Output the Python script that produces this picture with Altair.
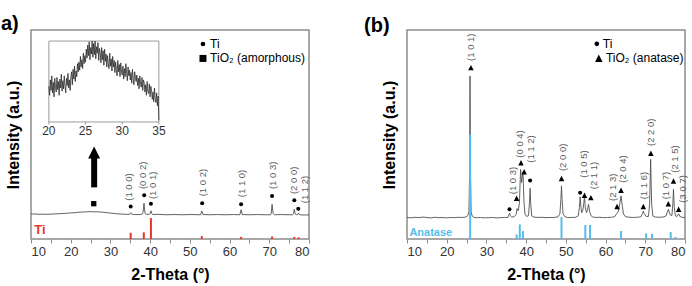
import altair as alt
import pandas as pd

FONT = "Liberation Sans"
CURVE = "#505050"
LABEL_GRAY = "#5e5e5e"
FRAME = "#8c8c8c"
TI_RED = "#e8362e"
ANATASE_BLUE = "#55bde9"
TRI_PATH = "M-1,1L0,-1L1,1Z"

# ---------------- panel (a): Ti with amorphous TiO2 ----------------
a_two_theta = [10, 11, 12, 13, 14, 15, 16, 17, 18, 19, 20, 21, 22, 23, 24, 25, 26, 27, 28, 29, 30,
               31, 32, 33, 34, 34.8, 35.1, 35.4, 36, 37, 37.9, 38.2, 38.45, 38.7, 39.0, 39.8,
               40.05, 40.2, 40.4, 40.7, 42, 44, 46, 48, 50, 52.7, 53.0, 53.3, 55, 57, 59, 61,
               62.6, 62.9, 63.2, 65, 67, 69, 70.3, 70.5, 70.7, 70.95, 71.3, 73, 75, 75.9, 76.1,
               76.3, 76.5, 76.9, 77.2, 77.4, 77.6, 78, 80]
a_intensity = [11.9, 12.0, 11.8, 11.9, 11.8, 11.9, 12.0, 12.1, 12.2, 12.3, 12.5, 12.6, 12.8, 12.9,
               13.0, 13.1, 13.0, 13.0, 12.8, 12.6, 12.4, 12.2, 12.0, 11.9, 11.8, 11.8, 12.6, 11.8,
               11.7, 11.7, 11.8, 12.6, 17.1, 12.3, 11.8, 11.8, 12.4, 13.5, 12.2, 11.7, 11.8, 11.6,
               11.7, 11.6, 11.7, 11.6, 13.4, 11.7, 11.6, 11.7, 11.6, 11.7, 11.6, 14.0, 11.7, 11.6,
               11.7, 11.6, 11.6, 12.4, 16.6, 12.2, 11.6, 11.7, 11.6, 11.6, 12.2, 14.2, 12.0, 11.6,
               11.8, 12.4, 11.7, 11.5, 11.5]

ti_ref_pos = [35.1, 38.4, 40.2, 53.0, 62.9, 70.7, 76.3, 77.4]
ti_ref_int = [3.0, 3.2, 10.0, 1.4, 1.0, 1.2, 1.0, 0.8]

a_peak_x = [35.1, 38.5, 40.2, 53.1, 62.9, 70.7, 76.3, 77.3]
a_peak_y = [15.5, 20.9, 16.9, 17.1, 16.6, 20.6, 18.5, 14.5]
a_hkl = ["(1 0 0)", "(0 0 2)", "(1 0 1)", "(1 0 2)", "(1 1 0)", "(1 0 3)", "(2 0 0)", "(1 1 2)"]
a_hkl_x = [34.8, 38.1, 40.6, 53.2, 63.1, 70.9, 76.3, 79.0]
a_hkl_y = [18.3, 23.9, 19.1, 20.4, 20.0, 23.9, 21.5, 17.1]

amorph_x = [25.8]
amorph_y = [16.9]

# inset: the broad amorphous hump, 20-35 deg in 0.1 deg steps
inset_start, inset_step = 20.0, 0.1
inset_counts = [44, 33, 52, 39, 57, 36, 49, 31, 54, 43,
                37, 55, 40, 50, 33, 53, 42, 59, 38, 51,
                41, 57, 44, 36, 54, 45, 60, 42, 52, 39,
                56, 62, 46, 65, 53, 69, 50, 63, 56, 72,
                62, 74, 64, 81, 68, 77, 66, 85, 72, 82,
                74, 90, 79, 95, 82, 99, 77, 92, 84, 100,
                80, 97, 83, 100, 78, 93, 85, 98, 76, 91,
                86, 73, 92, 77, 88, 70, 90, 75, 84, 68,
                82, 72, 66, 85, 69, 78, 63, 81, 68, 76,
                61, 74, 65, 57, 76, 62, 71, 56, 73, 63,
                58, 69, 53, 66, 56, 72, 60, 51, 68, 57,
                64, 52, 61, 48, 65, 53, 46, 62, 55, 50,
                58, 45, 54, 41, 57, 47, 43, 55, 39, 52,
                48, 37, 46, 33, 50, 38, 35, 47, 31, 44,
                40, 28, 37, 25, 42, 29, 24, 36, 20, 32,
                2]
inset_ticks = [20, 25, 30, 35]
# where the inset box sits inside panel (a), in that panel's data units
INSET_X0, INSET_X1 = 14.5, 42.2
INSET_Y0, INSET_Y1 = 56.0, 94.7

# ---------------- panel (b): Ti with anatase TiO2 ----------------
b_two_theta = [10, 11, 12, 13, 14, 15, 16, 17, 18, 19, 20, 21, 22, 23, 24, 24.8, 25.3, 25.6, 25.75,
               25.87, 26.0, 26.15, 26.4, 26.8, 27.5, 28.5, 29.5, 30.5, 31.5, 32.5, 33.5, 34.5,
               35.4, 35.7, 35.85, 36.0, 36.4, 37.0, 37.5, 37.7, 38.0, 38.3, 38.6, 38.85, 39.2,
               39.45, 39.7, 40.1, 40.6, 40.85, 41.0, 41.15, 41.4, 41.9, 43, 44, 45, 46, 47, 48.0,
               48.5, 48.75, 48.9, 49.05, 49.3, 49.8, 50.5, 51.5, 52.5, 53.1, 53.4, 53.6, 53.8,
               54.0, 54.3, 54.5, 54.7, 54.9, 55.2, 55.45, 55.7, 55.95, 56.3, 56.8, 57.5, 58.5,
               59.5, 60.5, 61.5, 62.3, 62.8, 63.2, 63.6, 63.9, 64.2, 64.5, 65.0, 66, 67, 68, 68.9,
               69.3, 69.5, 69.7, 70.2, 70.8, 71.1, 71.35, 71.6, 71.9, 72.5, 73.5, 74.5, 75.2,
               75.6, 75.8, 76.0, 76.3, 76.7, 76.95, 77.1, 77.3, 77.6, 78.0, 78.3, 78.45, 78.7,
               79.2, 80]
b_intensity = [10.3, 10.1, 10.4, 10.2, 10.5, 10.3, 10.1, 10.4, 10.2, 10.3, 10.1, 10.3, 10.2, 10.4,
               10.3, 10.5, 11.2, 13.0, 30.0, 78.0, 30.0, 13.0, 11.0, 10.4, 10.2, 10.3, 10.1, 10.2,
               10.3, 10.1, 10.2, 10.3, 10.3, 11.8, 12.4, 11.2, 10.5, 10.7, 11.8, 14.5, 13.5, 17.0,
               33.3, 27.0, 32.2, 18.0, 12.0, 10.8, 11.2, 18.0, 24.3, 17.0, 11.0, 10.5, 10.3, 10.4,
               10.2, 10.3, 10.3, 10.6, 12.0, 19.0, 25.4, 19.0, 12.0, 10.6, 10.3, 10.3, 10.4, 11.0,
               15.0, 20.2, 15.0, 12.6, 14.0, 17.0, 20.1, 15.0, 12.6, 14.0, 16.6, 13.5, 11.2, 10.5,
               10.3, 10.4, 10.2, 10.3, 10.4, 10.7, 12.2, 13.0, 17.0, 20.6, 16.0, 12.0, 10.7, 10.4,
               10.3, 10.4, 10.6, 12.2, 13.4, 12.2, 10.8, 10.8, 17.0, 38.1, 17.0, 11.0, 10.5, 10.4,
               10.5, 11.0, 13.2, 14.2, 13.0, 11.5, 11.2, 17.0, 23.8, 15.0, 11.0, 10.8, 11.8, 12.0,
               10.8, 10.4, 10.3]

anatase_ref_pos = [25.9, 37.6, 38.4, 39.2, 48.9, 54.9, 56.1, 63.9, 70.2, 71.7, 76.4, 77.6]
anatase_ref_int = [50.0, 2.2, 7.0, 3.8, 10.5, 6.7, 6.7, 3.8, 2.7, 2.5, 3.3, 1.0]

b_ti_x = [35.8, 41.0, 53.6]
b_ti_y = [14.2, 28.0, 22.1]
b_tri_x = [26.1, 37.6, 38.7, 39.5, 48.9, 54.7, 56.3, 62.9, 63.9, 69.5, 71.4, 75.8, 77.1, 78.4]
b_tri_y = [82.0, 19.5, 36.5, 32.2, 29.0, 20.9, 19.8, 15.6, 23.3, 15.6, 41.0, 16.9, 27.8, 14.2]
b_hkl = ["(1 0 1)", "(1 0 3)", "(0 0 4)", "(1 1 2)", "(2 0 0)", "(1 0 5)", "(2 1 1)",
         "(2 1 3)", "(2 0 4)", "(1 1 6)", "(2 2 0)", "(1 0 7)", "(2 1 5)", "(3 0 7)"]
b_hkl_x = [26.1, 36.6, 38.5, 41.2, 49.2, 54.6, 57.2, 61.8, 64.3, 69.6, 71.4, 75.2, 77.5, 79.4]
b_hkl_y = [85.2, 21.4, 38.9, 36.5, 32.5, 29.3, 23.8, 18.2, 26.9, 19.0, 44.5, 19.0, 31.7, 17.4]

W, H = 278, 209


def X(field):
    return alt.X(f"{field}:Q",
                 scale=alt.Scale(domain=[10, 80], nice=False, zero=False),
                 axis=alt.Axis(values=list(range(10, 81, 5)), format="d",
                               labelExpr="datum.value % 10 == 0 ? datum.label : ''",
                               title="2-Theta (°)", grid=False, domain=False,
                               tickColor=FRAME, tickSize=4, tickWidth=1,
                               labelFontSize=13, labelColor="#333333", labelPadding=2,
                               titleFontSize=16, titleFontWeight="bold", titleColor="black",
                               titlePadding=8))


def Y(field):
    return alt.Y(f"{field}:Q",
                 scale=alt.Scale(domain=[0, 100], nice=False, zero=False),
                 axis=alt.Axis(title="Intensity (a.u.)", labels=False, ticks=False, domain=False,
                               grid=False, titleFontSize=16, titleFontWeight="bold",
                               titleColor="black", titlePadding=10))


def sticks(pos, inten, color):
    df = pd.DataFrame({"x": pos, "y0": [0] * len(pos), "y1": inten})
    return alt.Chart(df).mark_rule(color=color, strokeWidth=2).encode(
        x=X("x"), y=Y("y0"), y2="y1")


def curve(tt, inten):
    df = pd.DataFrame({"x": tt, "y": inten})
    return alt.Chart(df).mark_line(color=CURVE, strokeWidth=0.9).encode(x=X("x"), y=Y("y"))


def hkl_labels(names, lx, ly):
    df = pd.DataFrame({"x": lx, "y": ly, "t": names})
    return alt.Chart(df).mark_text(angle=270, align="left", baseline="middle", fontSize=9.5,
                                   color=LABEL_GRAY).encode(x=X("x"), y=Y("y"), text="t:N")


def markers(px, py, shape, size):
    df = pd.DataFrame({"x": px, "y": py})
    return alt.Chart(df).mark_point(shape=shape, size=size, filled=True, color="black",
                                    opacity=1).encode(x=X("x"), y=Y("y"))


def legend_text(x, y, text):
    df = pd.DataFrame({"x": [x], "y": [y], "t": [text]})
    return alt.Chart(df).mark_text(align="left", baseline="middle", fontSize=12,
                                   color="black").encode(x=X("x"), y=Y("y"), text="t:N")


def panel_tag(text, dx, dy):
    return alt.Chart(pd.DataFrame({"t": [text]})).mark_text(
        align="left", baseline="alphabetic", fontSize=20, fontWeight="bold", color="black"
    ).encode(x=alt.value(dx), y=alt.value(dy), text="t:N")


# --- inset, mapped into panel (a) coordinates ---
sx = (INSET_X1 - INSET_X0) / 15.0
sy = (INSET_Y1 - INSET_Y0) / 100.0
inset_df = pd.DataFrame({
    "x": [INSET_X0 + (inset_start + i * inset_step - 20) * sx for i in range(len(inset_counts))],
    "y": [INSET_Y0 + c * sy for c in inset_counts],
})
inset_box = alt.Chart(pd.DataFrame({"x": [INSET_X0], "x2": [INSET_X1], "y": [INSET_Y0],
                                    "y2": [INSET_Y1]})).mark_rect(
    fill="white", stroke="#9a9a9a", strokeWidth=1).encode(x=X("x"), x2="x2", y=Y("y"), y2="y2")
inset_line = alt.Chart(inset_df).mark_line(color="#2a2a2a", strokeWidth=0.8).encode(
    x=X("x"), y=Y("y"))
tick_df = pd.DataFrame({
    "x": [INSET_X0 + (t - 20) * sx for t in inset_ticks],
    "y": [INSET_Y0] * len(inset_ticks),
    "y2": [INSET_Y0 - 1.2] * len(inset_ticks),
    "ly": [INSET_Y0 - 4.3] * len(inset_ticks),
    "t": [str(t) for t in inset_ticks],
})
inset_tick_marks = alt.Chart(tick_df).mark_rule(color="#9a9a9a").encode(
    x=X("x"), y=Y("y"), y2="y2")
inset_tick_labels = alt.Chart(tick_df).mark_text(fontSize=12, color="#333333",
                                                 baseline="middle").encode(
    x=X("x"), y=Y("ly"), text="t:N")

# arrow pointing from the amorphous hump up to the inset
arrow_shaft = alt.Chart(pd.DataFrame({"x": [25.9], "y": [24.7], "y2": [39.0]})).mark_rule(
    color="black", strokeWidth=6).encode(x=X("x"), y=Y("y"), y2="y2")
arrow_head = markers([25.9], [41.4], TRI_PATH, 144)

red_tag = alt.Chart(pd.DataFrame({"x": [10.8], "y": [2.4], "t": ["Ti"]})).mark_text(
    align="left", baseline="alphabetic", fontSize=13, fontWeight="bold", color=TI_RED
).encode(x=X("x"), y=Y("y"), text="t:N")

panel_a = alt.layer(
    curve(a_two_theta, a_intensity),
    sticks(ti_ref_pos, ti_ref_int, TI_RED),
    inset_box, inset_line, inset_tick_marks, inset_tick_labels,
    arrow_shaft, arrow_head,
    markers(amorph_x, amorph_y, "square", 28),
    markers(a_peak_x, a_peak_y, "circle", 16),
    hkl_labels(a_hkl, a_hkl_x, a_hkl_y),
    markers([53.3], [93.3], "circle", 22),
    legend_text(55.1, 93.3, "Ti"),
    markers([53.3], [86.4], "square", 49),
    legend_text(55.1, 86.4, "TiO₂ (amorphous)"),
    red_tag,
    panel_tag("a)", -30, 0),
).properties(width=W, height=H)

blue_tag = alt.Chart(pd.DataFrame({"x": [10.6], "y": [1.4], "t": ["Anatase"]})).mark_text(
    align="left", baseline="alphabetic", fontSize=11, fontWeight="bold", color=ANATASE_BLUE
).encode(x=X("x"), y=Y("y"), text="t:N")

panel_b = alt.layer(
    curve(b_two_theta, b_intensity),
    sticks(anatase_ref_pos, anatase_ref_int, ANATASE_BLUE),
    markers(b_ti_x, b_ti_y, "circle", 16),
    markers(b_tri_x, b_tri_y, TRI_PATH, 30),
    hkl_labels(b_hkl, b_hkl_x, b_hkl_y),
    markers([57.8], [93.4], "circle", 22),
    legend_text(59.3, 93.4, "Ti"),
    markers([58.3], [86.5], TRI_PATH, 56),
    legend_text(60.1, 86.5, "TiO₂ (anatase)"),
    blue_tag,
    panel_tag("(b)", -43, 2),
).properties(width=W, height=H)

chart = alt.hconcat(panel_a, panel_b, spacing=98, bounds="flush").properties(
    padding={"left": 0, "top": 13, "right": 0, "bottom": 0}
).configure(font=FONT).configure_view(stroke=FRAME, strokeWidth=1.5)

chart.save("out.html", embed_options={"renderer": "svg", "actions": False})
